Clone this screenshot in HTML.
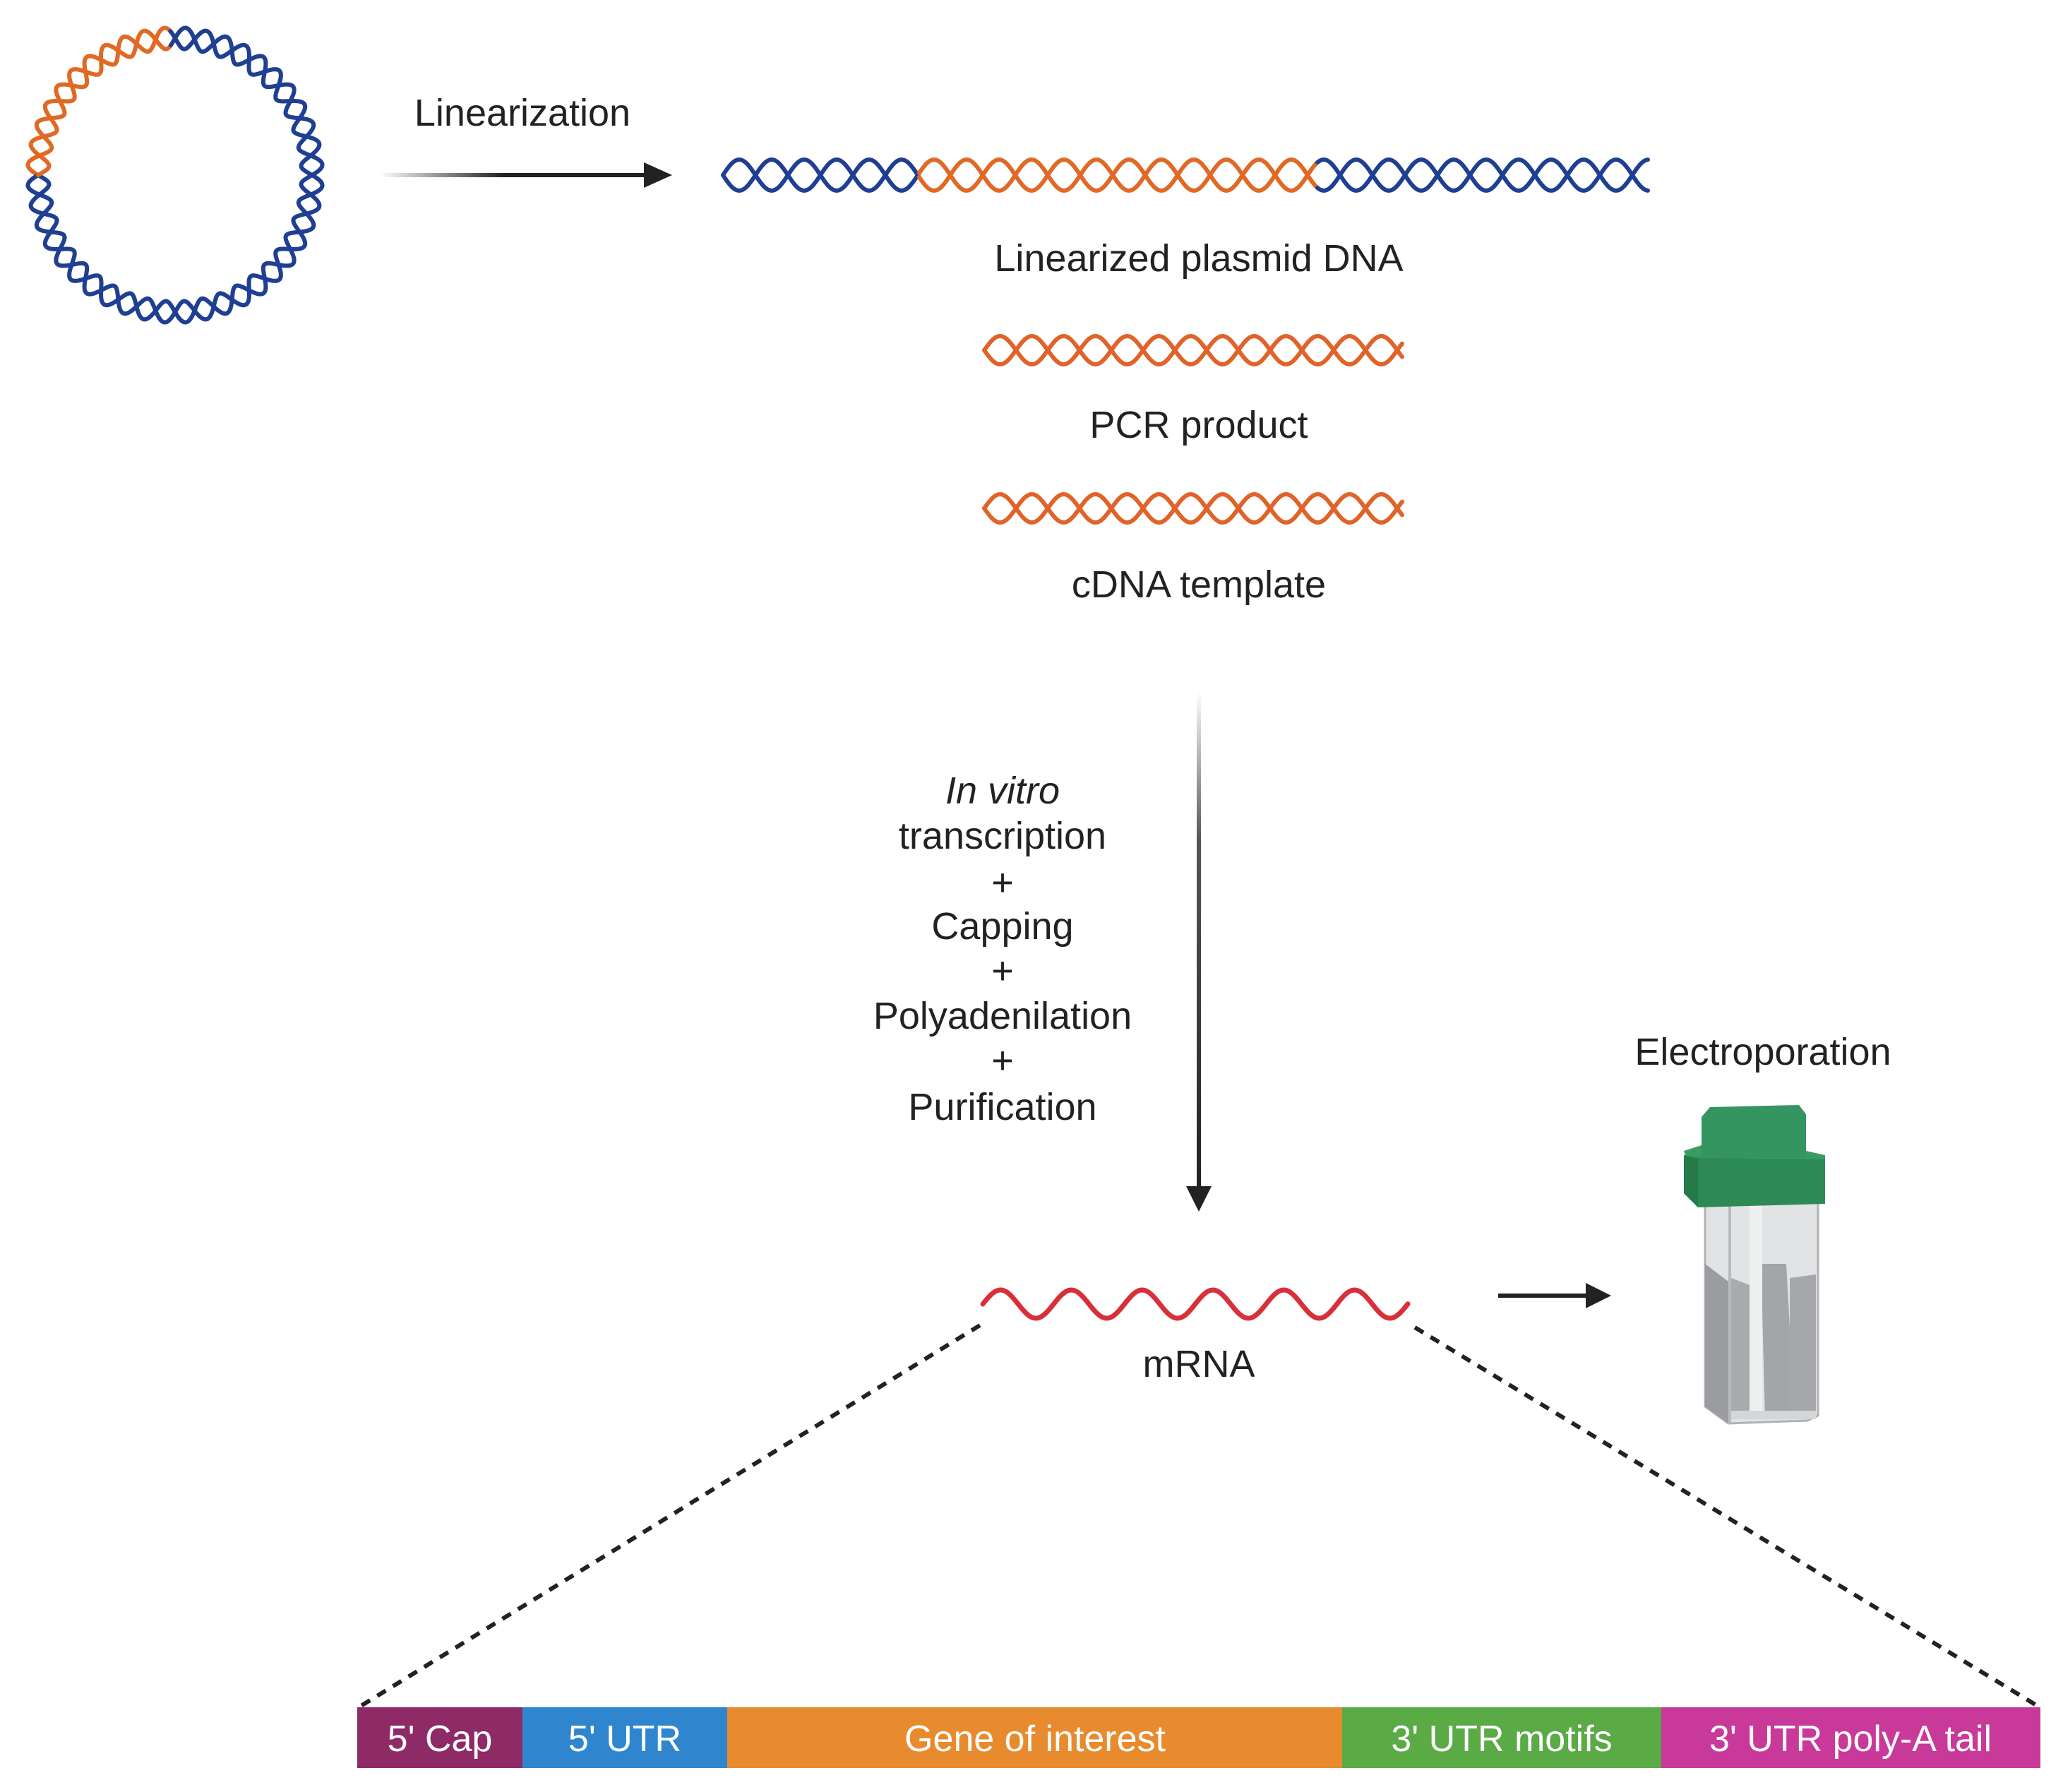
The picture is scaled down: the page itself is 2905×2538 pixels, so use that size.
<!DOCTYPE html>
<html><head><meta charset="utf-8"><style>
html,body{margin:0;padding:0;background:#fff;}
body{width:2905px;height:2533px;overflow:hidden;position:relative;font-family:"Liberation Sans",sans-serif;}
</style></head><body>
<svg id="s" width="2905" height="2533" viewBox="0 0 2905 2533" xmlns="http://www.w3.org/2000/svg">
<defs>
<linearGradient id="gh" x1="0" x2="1" y1="0" y2="0"><stop offset="0" stop-color="#fff"/><stop offset="0.45" stop-color="#222"/><stop offset="1" stop-color="#222"/></linearGradient>
<linearGradient id="gv" x1="0" x2="0" y1="0" y2="1"><stop offset="0" stop-color="#fff"/><stop offset="0.3" stop-color="#555"/><stop offset="1" stop-color="#222"/></linearGradient>
</defs>
<g id="dyn"></g>
<g font-family="Liberation Sans, sans-serif" fill="#222" text-anchor="middle" font-size="54">
<text x="740" y="178">Linearization</text>
<text x="1698" y="384">Linearized plasmid DNA</text>
<text x="1698" y="620">PCR product</text>
<text x="1698" y="846">cDNA template</text>
<text x="1420" y="1138" font-style="italic">In vitro</text>
<text x="1420" y="1202">transcription</text>
<text x="1420" y="1268">+</text>
<text x="1420" y="1330">Capping</text>
<text x="1420" y="1393">+</text>
<text x="1420" y="1457">Polyadenilation</text>
<text x="1420" y="1520">+</text>
<text x="1420" y="1586">Purification</text>
<text x="1698" y="1950">mRNA</text>
<text x="2497" y="1508">Electroporation</text>
</g>
<rect x="537" y="245" width="390" height="6" fill="url(#gh)"/>
<polygon points="912,230 952,248 912,266" fill="#222"/>
<rect x="1695" y="980" width="6" height="702" fill="url(#gv)"/>
<polygon points="1680,1680 1698,1716 1716,1680" fill="#222"/>
<rect x="2122" y="1832" width="130" height="6" fill="#222"/>
<polygon points="2246,1817 2282,1835 2246,1853" fill="#222"/>
<line x1="1388" y1="1877" x2="508" y2="2418" stroke="#222" stroke-width="6" stroke-dasharray="14,12"/>
<line x1="2004" y1="1880" x2="2889" y2="2418" stroke="#222" stroke-width="6" stroke-dasharray="14,12"/>
<rect x="506" y="2418" width="234" height="86" fill="#8e2a66"/>
<rect x="740" y="2418" width="290" height="86" fill="#2f86cf"/>
<rect x="1030" y="2418" width="871" height="86" fill="#e88b2e"/>
<rect x="1901" y="2418" width="452" height="86" fill="#5aaa46"/>
<rect x="2353" y="2418" width="537" height="86" fill="#c8399a"/>
<g font-family="Liberation Sans, sans-serif" fill="#fff" text-anchor="middle" font-size="52">
<text x="623" y="2480">5' Cap</text>
<text x="885" y="2480">5' UTR</text>
<text x="1466" y="2480">Gene of interest</text>
<text x="2127" y="2480">3' UTR motifs</text>
<text x="2621" y="2480">3' UTR poly-A tail</text>
</g>
<g>
<polygon points="2415,1700 2575,1700 2575,2005 2560,2012 2448,2016 2415,1992" fill="#e2e3e5" stroke="#b0b2b5" stroke-width="3"/>
<polygon points="2415,1790 2448,1815 2448,2016 2415,1992" fill="#9a9c9f"/>
<rect x="2448" y="1700" width="4" height="316" fill="#b8babd"/>
<polygon points="2452,1810 2478,1820 2478,2010 2452,2010" fill="#a9abae"/>
<polygon points="2495,1790 2530,1790 2535,1880 2535,2010 2500,2010 2495,1820" fill="#a3a5a8"/>
<polygon points="2535,1810 2572,1805 2572,2005 2535,2010" fill="#a5a7aa"/>
<rect x="2478" y="1700" width="18" height="310" fill="#eeefef"/>
<rect x="2452" y="1998" width="120" height="12" fill="#d5d6d8"/>
<polygon points="2410,1582 2422,1568 2548,1565 2558,1578 2558,1640 2410,1640" fill="#349560"/>
<polygon points="2385,1630 2410,1622 2410,1640 2558,1640 2558,1630 2585,1636 2585,1660 2395,1660" fill="#3a9c63"/>
<polygon points="2385,1636 2410,1640 2585,1642 2585,1705 2405,1710 2385,1690" fill="#2e8a55"/>
<polygon points="2385,1636 2405,1642 2405,1710 2385,1690" fill="#267a49"/>
</g>
</svg>
<script>
(function(){
var g=document.getElementById('dyn'),NS='http://www.w3.org/2000/svg';
function path(d,c,w){var p=document.createElementNS(NS,'path');p.setAttribute('d',d);p.setAttribute('stroke',c);p.setAttribute('stroke-width',w||6);p.setAttribute('fill','none');p.setAttribute('stroke-linecap','round');g.appendChild(p);}
function helix(x0,x1,y,A,P,c,ph){
 for(var k=0;k<2;k++){var d='';for(var x=x0;x<=x1;x+=2){var yy=y+A*Math.sin(2*Math.PI*(x-x0)/P+k*Math.PI+(ph||0));d+=(d?'L':'M')+x.toFixed(1)+','+yy.toFixed(1);}path(d,c);}
}
helix(1024,1302,248,22,92,'#1f3f92');
helix(1302,1866,248,22,92,'#e06a25',(1302-1024)/92*2*Math.PI);
helix(1866,2335,248,22,92,'#1f3f92',(1866-1024)/92*2*Math.PI);
helix(1394,1986,496,20,90,'#e0632a');
helix(1394,1986,720,20,90,'#e0632a');
var d='';for(var x=1392;x<=1994;x+=2){var yy=1847-20*Math.sin(2*Math.PI*(x-1392)/100.3);d+=(d?'L':'M')+x+','+yy.toFixed(1);}path(d,'#d8303a',7);
var cx=248,cy=248,R=194,A=15,n=22;
for(var k=0;k<2;k++){
 var segs=[];
 for(var t=0;t<=3600;t++){var a=t/3600*2*Math.PI;var r=R+A*Math.sin(n*a+k*Math.PI);
  var x=cx+r*Math.cos(a),y=cy+r*Math.sin(a);
  var deg=t/10; var orange=(deg>=180&&deg<=268);
  segs.push([orange?'o':'b',x,y]);}
 var cur=null,dd='';
 for(var i=0;i<segs.length;i++){var s=segs[i];if(s[0]!==cur){if(dd)path(dd,cur==='o'?'#e06a25':'#1f3f92');cur=s[0];dd='M'+s[1].toFixed(1)+','+s[2].toFixed(1);}else dd+='L'+s[1].toFixed(1)+','+s[2].toFixed(1);}
 if(dd)path(dd,cur==='o'?'#e06a25':'#1f3f92');
}
})();
</script>
</body></html>
